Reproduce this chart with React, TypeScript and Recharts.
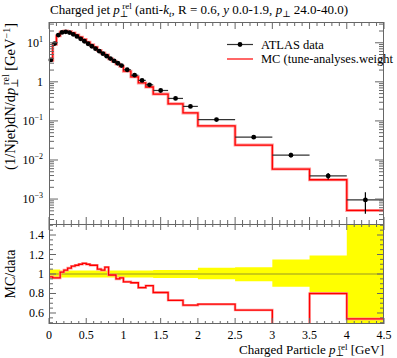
import React from "react";
import {
  ComposedChart,
  Line,
  Scatter,
  Area,
  XAxis,
  YAxis,
  ErrorBar,
  ReferenceLine,
} from "recharts";

// bin edges of the p_T^rel histogram (GeV)
const binEdges = [
  0, 0.05, 0.1, 0.15, 0.2, 0.25, 0.3, 0.35, 0.4, 0.45, 0.5, 0.55, 0.6, 0.65,
  0.7, 0.75, 0.8, 0.85, 0.9, 0.95, 1.0, 1.1, 1.2, 1.3, 1.4, 1.6, 1.8, 2.0, 2.5,
  3.0, 3.5, 4.0, 4.5,
];

// ATLAS data, (1/Njet) dN/dp_T^rel
const dataValues = [
  3.63, 9.54, 15.7, 18.4, 19.1, 18.2, 16.45, 14.55, 12.64, 10.92, 9.43, 8.15,
  7.04, 6.08, 5.25, 4.53, 3.94, 3.42, 2.99, 2.61, 2.04, 1.48, 1.09, 0.839,
  0.601, 0.376, 0.235, 0.108, 0.0383, 0.0133, 0.0039, 0.00095,
];

// MC / data
const ratioValues = [
  0.97, 0.96, 0.96, 1.02, 1.04, 1.06, 1.08, 1.09, 1.1, 1.11, 1.1, 1.09, 1.09,
  1.05, 1.04, 1.07, 0.99, 0.99, 0.95, 0.96, 0.92, 0.91, 0.86, 0.88, 0.81, 0.73,
  0.68, 0.69, 0.63, 0.44, 0.8, 0.54,
];

// relative data uncertainty band
const bandLow = [
  0.955, 0.955, 0.955, 0.965, 0.965, 0.965, 0.965, 0.965, 0.965, 0.965, 0.965,
  0.965, 0.965, 0.965, 0.965, 0.965, 0.965, 0.965, 0.965, 0.965, 0.965, 0.965,
  0.965, 0.965, 0.96, 0.96, 0.96, 0.945, 0.925, 0.87, 0.81, 0.44,
];
const bandHigh = [
  1.045, 1.045, 1.045, 1.035, 1.035, 1.035, 1.035, 1.035, 1.035, 1.035, 1.035,
  1.035, 1.035, 1.035, 1.035, 1.035, 1.035, 1.035, 1.035, 1.035, 1.035, 1.035,
  1.035, 1.035, 1.04, 1.04, 1.04, 1.065, 1.07, 1.15, 1.19, 1.58,
];

const xTicks = Array.from({ length: 46 }, (_, i) => i / 10);
const mainYTicks: number[] = [];
for (let d = -4; d <= 1; d++) {
  for (let m = 1; m <= 9; m++) {
    const v = m * Math.pow(10, d);
    if (v >= 2.3e-4 && v <= 34) mainYTicks.push(v);
  }
}
const ratioYTicks = Array.from({ length: 21 }, (_, i) => 0.5 + i * 0.05);

const last = dataValues.length - 1;
const points = dataValues.map((v, i) => ({
  x: (binEdges[i] + binEdges[i + 1]) / 2,
  y: v,
  xerr: (binEdges[i + 1] - binEdges[i]) / 2,
  yerr: [v * (1 - bandLow[i]), v * (bandHigh[i] - 1)],
}));
const hist = binEdges.map((e, i) => {
  const k = Math.min(i, last);
  return {
    x: e,
    mc: dataValues[k] * ratioValues[k],
    ratio: ratioValues[k],
    band: [bandLow[k], bandHigh[k]],
  };
});

const FONT = "'Liberation Serif', 'DejaVu Serif', serif";
const AX = "#666";
const PL = 49;
const PR = 384;
const PT = 22;
const PM = 224;
const PB = 324;

const isMajorX = (v: number) => Math.abs(v * 2 - Math.round(v * 2)) < 1e-6;

function MainXTick(props: any) {
  const { x, payload } = props;
  const len = isMajorX(payload.value) ? 7 : 4;
  return (
    <g>
      <line x1={x} x2={x} y1={PM} y2={PM - len} stroke={AX} />
      <line x1={x} x2={x} y1={PT} y2={PT + len} stroke={AX} />
    </g>
  );
}

function RatioXTick(props: any) {
  const { x, payload } = props;
  const major = isMajorX(payload.value);
  const len = major ? 6 : 3;
  return (
    <g>
      <line x1={x} x2={x} y1={PB} y2={PB - len} stroke={AX} />
      <line x1={x} x2={x} y1={PM} y2={PM + len} stroke={AX} />
      {major && (
        <text x={x} y={339} textAnchor="middle" fontSize={12} fontFamily={FONT} fill="#000">
          {String(Math.round(payload.value * 10) / 10)}
        </text>
      )}
    </g>
  );
}

function MainYTick(props: any) {
  const { y, payload } = props;
  const lg = Math.log10(payload.value);
  const major = Math.abs(lg - Math.round(lg)) < 1e-6;
  const len = major ? 9 : 5;
  const exp = Math.round(lg);
  return (
    <g>
      <line x1={PL} x2={PL + len} y1={y} y2={y} stroke={AX} />
      <line x1={PR - len} x2={PR} y1={y} y2={y} stroke={AX} />
      {major && (
        <text x={PL - 6} y={y + 4} textAnchor="end" fontSize={12} fontFamily={FONT} fill="#000">
          {exp === 0 ? "1" : "10"}
          {exp !== 0 && (
            <tspan fontSize={8} dy={-5}>
              {exp < 0 ? "\u2212" + Math.abs(exp) : String(exp)}
            </tspan>
          )}
        </text>
      )}
    </g>
  );
}

function RatioYTick(props: any) {
  const { y, payload } = props;
  const v = payload.value;
  const major = Math.abs(v * 5 - Math.round(v * 5)) < 1e-6;
  const len = major ? 7 : 4;
  return (
    <g>
      <line x1={PL} x2={PL + len} y1={y} y2={y} stroke={AX} />
      <line x1={PR - len} x2={PR} y1={y} y2={y} stroke={AX} />
      {major && (
        <text x={PL - 5} y={y + 4} textAnchor="end" fontSize={12} fontFamily={FONT} fill="#000">
          {String(Math.round(v * 10) / 10)}
        </text>
      )}
    </g>
  );
}

export default function App() {
  return (
    <div style={{ position: "absolute", left: 0, top: 0, width: 397, height: 358, background: "#fff" }}>
      <div style={{ position: "absolute", left: 0, top: 0 }}>
        <ComposedChart width={397} height={225} margin={{ top: PT, right: 13, bottom: 0, left: 9 }}>
          <XAxis
            type="number"
            dataKey="x"
            domain={[0, 4.5]}
            ticks={xTicks}
            interval={0}
            height={1}
            axisLine={false}
            tickLine={false}
            tick={(p: any) => <MainXTick {...p} />}
          />
          <YAxis
            type="number"
            scale="log"
            domain={[2.3e-4, 34]}
            allowDataOverflow
            ticks={mainYTicks}
            interval={0}
            width={40}
            axisLine={false}
            tickLine={false}
            tick={(p: any) => <MainYTick {...p} />}
          />
          <Line
            data={hist}
            dataKey="mc"
            type="stepAfter"
            stroke="#ff9a9a"
            strokeWidth={3}
            dot={false}
            activeDot={false}
            isAnimationActive={false}
          />
          <Line
            data={hist}
            dataKey="mc"
            type="stepAfter"
            stroke="#ff0000"
            strokeWidth={1.3}
            dot={false}
            activeDot={false}
            isAnimationActive={false}
          />
          <Scatter
            data={points}
            dataKey="y"
            isAnimationActive={false}
            shape={(p: any) => <circle cx={p.cx} cy={p.cy} r={2.4} fill="#000" />}
          >
            <ErrorBar dataKey="xerr" direction="x" width={0} stroke="#333" strokeWidth={1.2} isAnimationActive={false} />
            <ErrorBar dataKey="yerr" direction="y" width={0} stroke="#000" strokeWidth={1.2} isAnimationActive={false} />
          </Scatter>
        </ComposedChart>
      </div>
      <div style={{ position: "absolute", left: 0, top: 0 }}>
        <ComposedChart width={397} height={358} margin={{ top: PM, right: 13, bottom: 14, left: 9 }}>
          <XAxis
            type="number"
            dataKey="x"
            domain={[0, 4.5]}
            ticks={xTicks}
            interval={0}
            height={20}
            axisLine={false}
            tickLine={false}
            tick={(p: any) => <RatioXTick {...p} />}
          />
          <YAxis
            type="number"
            domain={[0.487, 1.513]}
            allowDataOverflow
            ticks={ratioYTicks}
            interval={0}
            width={40}
            axisLine={false}
            tickLine={false}
            tick={(p: any) => <RatioYTick {...p} />}
          />
          <Area
            data={hist}
            dataKey="band"
            type="stepAfter"
            stroke="none"
            fill="#ffff00"
            fillOpacity={1}
            isAnimationActive={false}
          />
          <ReferenceLine y={1} stroke="#444" strokeOpacity={0.55} />
          <Line
            data={hist}
            dataKey="ratio"
            type="stepAfter"
            stroke="#ff9a9a"
            strokeWidth={2.6}
            dot={false}
            activeDot={false}
            isAnimationActive={false}
          />
          <Line
            data={hist}
            dataKey="ratio"
            type="stepAfter"
            stroke="#ff0000"
            strokeWidth={1.3}
            dot={false}
            activeDot={false}
            isAnimationActive={false}
          />
        </ComposedChart>
      </div>
      <svg
        width={397}
        height={358}
        style={{ position: "absolute", left: 0, top: 0, pointerEvents: "none" }}
        fontFamily={FONT}
      >
        <rect x={PL + 0.5} y={PT + 0.5} width={PR - PL - 1} height={PM - PT} fill="none" stroke={AX} />
        <rect x={PL + 0.5} y={PM + 0.5} width={PR - PL - 1} height={PB - PM - 1} fill="none" stroke={AX} />

        <text x={50} y={14} fontSize={13} fill="#000">
          {"Charged jet "}
          <tspan fontStyle="italic">p</tspan>
          <tspan fontSize={9} dy={3}>{"\u22A5"}</tspan>
          <tspan fontSize={9} dx={-6} dy={-8}>rel</tspan>
          <tspan dy={5}>{" (anti-"}</tspan>
          <tspan fontStyle="italic">k</tspan>
          <tspan fontSize={9} fontStyle="italic" dy={3}>t</tspan>
          <tspan dy={-3}>{", R = 0.6, "}</tspan>
          <tspan fontStyle="italic">y</tspan>
          <tspan>{" 0.0-1.9, "}</tspan>
          <tspan fontStyle="italic">p</tspan>
          <tspan fontSize={9} dy={3}>{"\u22A5"}</tspan>
          <tspan dy={-3}>{" 24.0-40.0)"}</tspan>
        </text>

        <text transform="rotate(-90)" x={-23} y={15} textAnchor="end" fontSize={14.5} fill="#000">
          {"(1/Njet)dN/d"}
          <tspan fontStyle="italic">p</tspan>
          <tspan fontSize={10} dy={3}>{"\u22A5"}</tspan>
          <tspan fontSize={10} dx={-6.5} dy={-9}>rel</tspan>
          <tspan dy={6}>{" [GeV"}</tspan>
          <tspan fontSize={10} dy={-5}>{"\u22121"}</tspan>
          <tspan dy={5}>]</tspan>
        </text>

        <text transform="rotate(-90)" x={-274} y={15} textAnchor="middle" fontSize={14} fill="#000">
          MC/data
        </text>

        <text x={384} y={354} textAnchor="end" fontSize={13} fill="#000">
          {"Charged Particle "}
          <tspan fontStyle="italic">p</tspan>
          <tspan fontSize={9} dy={2}>{"\u22A5"}</tspan>
          <tspan fontSize={9} dx={-6} dy={-6}>rel</tspan>
          <tspan dy={4}>{" [GeV]"}</tspan>
        </text>

        <line x1={227} x2={253} y1={44.5} y2={44.5} stroke="#333" strokeWidth={1.2} />
        <circle cx={240} cy={44.5} r={2.4} fill="#000" />
        <text x={261} y={48.5} fontSize={12.5} fill="#000">ATLAS data</text>
        <line x1={227} x2={253} y1={59} y2={59} stroke="#ff0000" strokeWidth={1.2} />
        <text x={261} y={63} fontSize={12.5} fill="#000">MC (tune-analyses.weight</text>
      </svg>
    </div>
  );
}
